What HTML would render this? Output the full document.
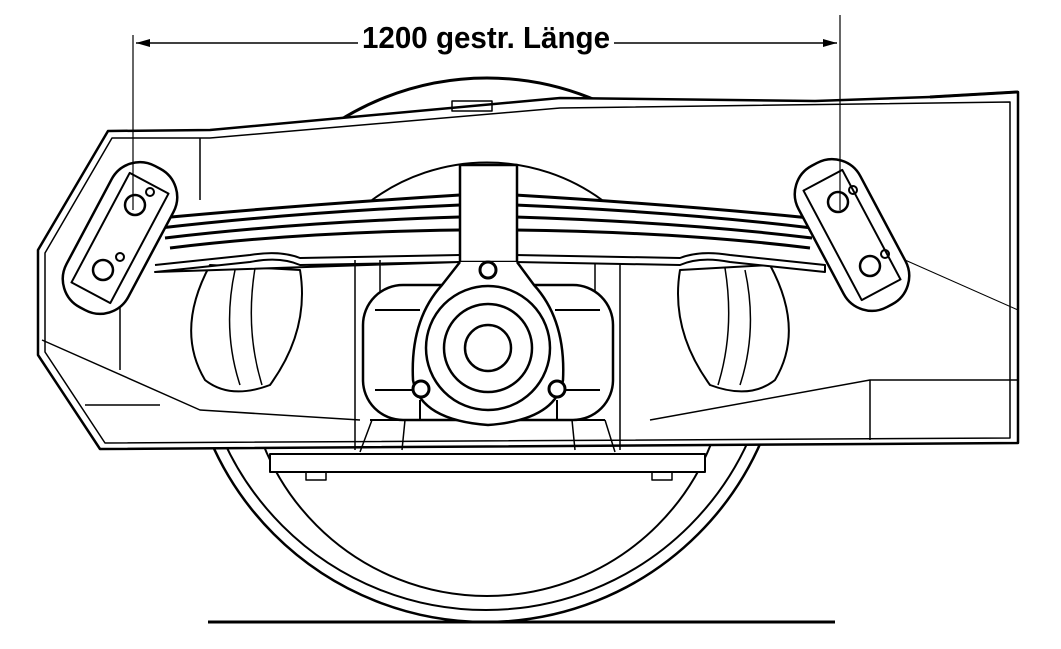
<!DOCTYPE html>
<html><head><meta charset="utf-8"><style>
html,body{margin:0;padding:0;background:#fff;width:1061px;height:649px;overflow:hidden}
svg{display:block}
</style></head><body>
<svg width="1061" height="649" viewBox="0 0 1061 649" xmlns="http://www.w3.org/2000/svg" fill="none" stroke="#000" stroke-width="2" stroke-linejoin="round">
<defs>
<clipPath id="below"><rect x="0" y="440" width="1061" height="209"/></clipPath>
<clipPath id="above"><rect x="0" y="0" width="1061" height="140"/></clipPath>
</defs>
<!-- wheel -->
<g clip-path="url(#below)">
<circle cx="486" cy="322" r="300" stroke-width="2.5"/>
<circle cx="486" cy="322" r="288" stroke-width="2"/>
<circle cx="487" cy="355" r="241" stroke-width="2"/>
</g>
<g clip-path="url(#above)">
<circle cx="487" cy="355" r="277" stroke-width="3"/>
</g>
<line x1="208" y1="622" x2="835" y2="622" stroke-width="3"/>
<!-- frame white fill -->
<path d="M108,131 L210,130 L560,98 L815,101 L930,97 L1018,92 L1018,443 L100,449 L38,355 L38,250 Z" fill="#fff" stroke-width="2.5"/>
<path d="M112,138 L210,138 L560,108 L1010,102 L1010,438 L105,443 L45,352 L45,253 Z" stroke-width="1.5"/>
<line x1="930" y1="97" x2="1018" y2="92" stroke-width="3"/>
<rect x="452" y="101" width="40" height="10" stroke-width="1.5"/>
<line x1="200" y1="138" x2="200" y2="200" stroke-width="1.5"/>
<line x1="120" y1="290" x2="120" y2="370" stroke-width="1.5"/>
<path d="M42,340 L200,410 L360,420" stroke-width="1.5"/>
<path d="M85,405 L160,405" stroke-width="1.5"/>
<path d="M650,420 L870,380 L1018,380" stroke-width="1.5"/>
<line x1="870" y1="380" x2="870" y2="440" stroke-width="1.5"/>
<path d="M905,260 L1018,310" stroke-width="1"/>
<!-- wheel arc inside frame -->
<g clip-path="url(#arcclip)"></g>
<path d="M372,200 A195,195 0 0 1 602,200" stroke-width="2"/>
<!-- brake-ish bulges -->
<path d="M210,265 Q175,330 205,380 Q230,400 270,385 Q310,330 300,270 Z" fill="#fff" stroke-width="2"/>
<path d="M235,270 Q222,330 240,385 M255,268 Q245,330 262,385" stroke-width="1.5"/>
<path d="M770,265 Q805,330 775,380 Q750,400 710,385 Q670,330 680,270 Z" fill="#fff" stroke-width="2"/>
<path d="M745,270 Q758,330 740,385 M725,268 Q735,330 718,385" stroke-width="1.5"/>
<!-- uprights -->
<line x1="355" y1="260" x2="355" y2="450" stroke-width="1.5"/>
<line x1="380" y1="260" x2="380" y2="300" stroke-width="1.5"/>
<line x1="595" y1="260" x2="595" y2="300" stroke-width="1.5"/>
<line x1="620" y1="260" x2="620" y2="450" stroke-width="1.5"/>
<!-- spring leaves -->
<g stroke-width="3">
<path d="M160,218 Q300,205 460,195 M515,195 Q680,205 810,218"/>
<path d="M160,228 Q300,212 460,205 M515,205 Q680,212 812,228"/>
<path d="M165,238 Q300,222 460,217 M515,217 Q680,222 812,238"/>
<path d="M170,248 Q300,232 460,230 M515,230 Q680,232 810,248"/>
</g>
<path d="M155,265 L250,255 Q280,250 300,258 L460,255 M515,255 L680,258 Q700,250 730,255 L825,265 L825,272 L730,262 Q700,256 680,265 L515,262 M460,262 L300,265 Q280,256 250,262 L155,272 Z" stroke-width="2" fill="#fff"/>
<!-- spring buckle -->
<rect x="460" y="165" width="57" height="97" fill="#fff" stroke-width="2.5"/>
<!-- axle box -->
<rect x="363" y="285" width="250" height="135" rx="40" fill="#fff" stroke-width="2.5"/>
<path d="M375,310 L420,310 M555,310 L600,310 M375,390 L420,390 M555,390 L600,390" stroke-width="2"/>
<path d="M460,262 L442,285 Q410,320 413,380 Q420,420 488,425 Q556,420 563,380 Q566,320 534,285 L517,262" fill="#fff" stroke-width="2.5"/>
<circle cx="488" cy="348" r="62" stroke-width="2.5"/>
<circle cx="488" cy="348" r="44" stroke-width="2.5"/>
<circle cx="488" cy="348" r="23" stroke-width="2.5"/>
<circle cx="488" cy="270" r="8" fill="#fff" stroke-width="3"/>
<circle cx="421" cy="389" r="8" fill="#fff" stroke-width="3"/>
<circle cx="557" cy="389" r="8" fill="#fff" stroke-width="3"/>
<path d="M370,420 L420,420 L420,400 M605,420 L557,420 L557,400" stroke-width="2"/>
<path d="M372,420 L360,452 M405,420 L402,450 M572,420 L575,450 M605,420 L615,452" stroke-width="1.5"/>
<!-- bottom plate -->
<path d="M270,454 L705,454 L705,472 L270,472 Z" fill="#fff" stroke-width="2"/>
<rect x="306" y="472" width="20" height="8" stroke-width="1.5"/>
<rect x="652" y="472" width="20" height="8" stroke-width="1.5"/>
<!-- left hanger plate -->
<g transform="translate(120,238) rotate(-62)">
<rect x="-80" y="-35" width="160" height="70" rx="32" fill="#fff" stroke-width="2.5"/>
<rect x="-62" y="-22" width="124" height="44" stroke-width="2"/>
</g>
<circle cx="135" cy="205" r="10" stroke-width="2.5"/><circle cx="150" cy="192" r="4" stroke-width="2"/>
<circle cx="103" cy="270" r="10" stroke-width="2.5"/><circle cx="120" cy="257" r="4" stroke-width="2"/>
<!-- right hanger plate -->
<g transform="translate(852,235) rotate(62)">
<rect x="-80" y="-35" width="160" height="70" rx="32" fill="#fff" stroke-width="2.5"/>
<rect x="-62" y="-22" width="124" height="44" stroke-width="2"/>
</g>
<circle cx="838" cy="202" r="10" stroke-width="2.5"/><circle cx="853" cy="190" r="4" stroke-width="2"/>
<circle cx="870" cy="266" r="10" stroke-width="2.5"/><circle cx="885" cy="254" r="4" stroke-width="2"/>
<!-- dimension -->
<line x1="133" y1="35" x2="133" y2="210" stroke-width="1.2"/>
<line x1="840" y1="15" x2="840" y2="210" stroke-width="1.2"/>
<line x1="1018" y1="100" x2="1018" y2="443" stroke-width="1"/>
<line x1="136" y1="43" x2="358" y2="43" stroke-width="1.5"/>
<line x1="614" y1="43" x2="837" y2="43" stroke-width="1.5"/>
<path d="M136,43 L150,39 L150,47 Z M837,43 L823,39 L823,47 Z" fill="#000" stroke="none"/>
<text x="362" y="48" textLength="248" lengthAdjust="spacingAndGlyphs" font-family="Liberation Sans, sans-serif" font-weight="bold" font-size="31" fill="#000" stroke="none">1200 gestr. Länge</text>
</svg>
</body></html>
